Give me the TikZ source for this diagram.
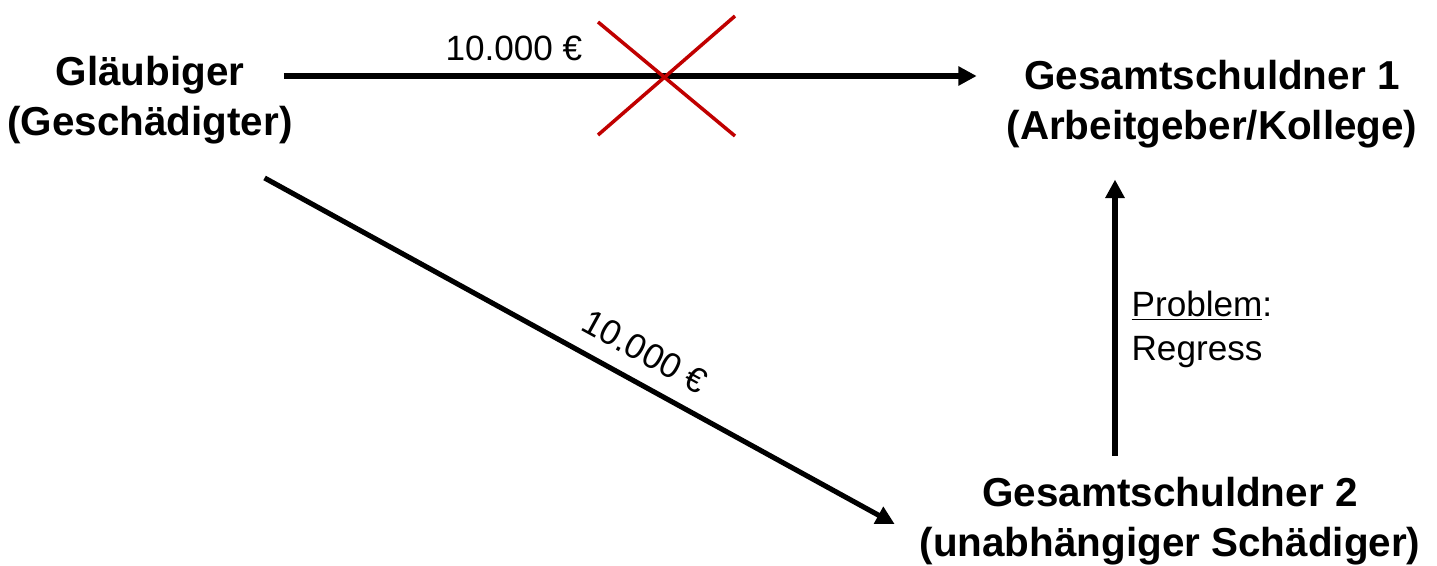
\documentclass[tikz,border=0pt]{standalone}
\usepackage{fontspec}
\setmainfont{Liberation Sans}
\usetikzlibrary{arrows.meta, positioning}
\definecolor{crossred}{HTML}{C00000}

\begin{document}
\begin{tikzpicture}[
    x=0.02cm, y=-0.02cm,
    party/.style={align=center, inner sep=0pt, outer sep=0pt, font=\bfseries\fontsize{23}{28.5}\selectfont},
    amount/.style={inner sep=2pt, font=\fontsize{20}{25}\selectfont},
    arrow/.style={-{Triangle[length=10.5pt, width=10.5pt]}, line width=2.9pt},
    cross/.style={draw=crossred, line width=2pt}
]
\useasboundingbox (0,0) rectangle (1437,565);

% Parties
\node[party] (glaeubiger) at (150,100) {Gläubiger\\(Geschädigter)};
\node[party] (gs1) at (1212,104) {Gesamtschuldner 1\\(Arbeitgeber/Kollege)};
\node[party] (gs2) at (1170,521) {Gesamtschuldner 2\\(unabhängiger Schädiger)};

% Helper coordinates
\coordinate (top) at (0,76);
\coordinate (vx) at (1115,0);
\coordinate (d1) at ([shift={(-28,34)}]glaeubiger.south east);
\coordinate (d2) at ([shift={(-25,47)}]gs2.north west);

% Connections
\draw[arrow, shorten <=-5pt, shorten >=17pt] (glaeubiger.east |- top) -- node[amount, above=5pt, pos=0.31] (a1) {10.000 €} (gs1.west |- top);
\draw[arrow] (d1) -- node[amount, sloped, above=7pt, pos=0.58] (a2) {10.000 €} (d2);
\draw[arrow, shorten <=12pt, shorten >=18pt] (gs2.north -| vx) -- node[amount, right=6pt, align=left, pos=0.45] (regress) {\underline{Problem}:\\Regress} (gs1.south -| vx);

% Crossed out
\coordinate (x) at (666,76);
\draw[cross] ([shift={(-68,-54)}]x) -- ([shift={(69,60)}]x);
\draw[cross] ([shift={(-68,59)}]x) -- ([shift={(69,-60)}]x);

\end{tikzpicture}
\end{document}
